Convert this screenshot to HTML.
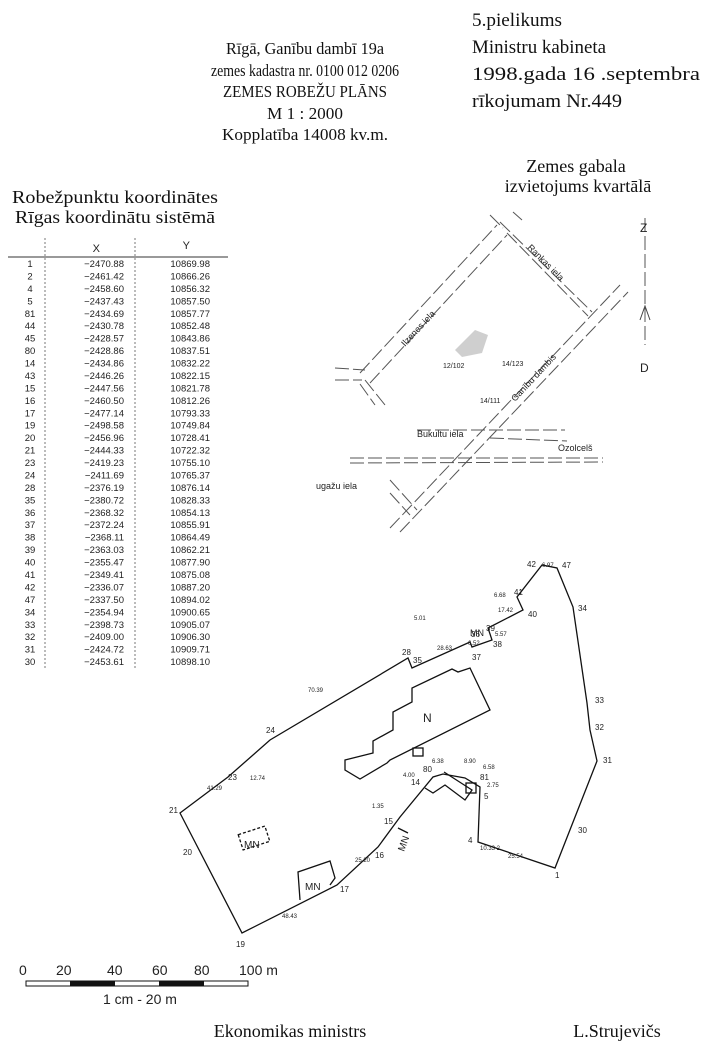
<!DOCTYPE html>
<html><head><meta charset="utf-8"><style>
html,body{margin:0;padding:0;background:#fff}
svg{display:block}
.s{font-family:"Liberation Serif",serif;fill:#111}
.a{font-family:"Liberation Sans",sans-serif;fill:#222}
</style></head><body>
<svg width="709" height="1056" viewBox="0 0 709 1056" xmlns="http://www.w3.org/2000/svg">
<g class="s" font-size="17" text-anchor="middle">
<text x="305" y="54" textLength="158" lengthAdjust="spacingAndGlyphs">Rīgā, Ganību dambī 19a</text>
<text x="305" y="76" textLength="188" lengthAdjust="spacingAndGlyphs">zemes kadastra nr. 0100 012 0206</text>
<text x="305" y="97" textLength="164" lengthAdjust="spacingAndGlyphs">ZEMES ROBEŽU PLĀNS</text>
<text x="305" y="119" textLength="76" lengthAdjust="spacingAndGlyphs">M 1 : 2000</text>
<text x="305" y="140" textLength="166" lengthAdjust="spacingAndGlyphs">Kopplatība 14008 kv.m.</text>
</g>
<g class="s" font-size="19">
<text x="472" y="26" textLength="90" lengthAdjust="spacingAndGlyphs">5.pielikums</text>
<text x="472" y="53" textLength="134" lengthAdjust="spacingAndGlyphs">Ministru kabineta</text>
<text x="472" y="80" textLength="228" lengthAdjust="spacingAndGlyphs">1998.gada 16  .septembra</text>
<text x="472" y="107" textLength="150" lengthAdjust="spacingAndGlyphs">rīkojumam Nr.449</text>
<text x="576" y="172" text-anchor="middle" font-size="18">Zemes gabala</text>
<text x="578" y="192" text-anchor="middle" font-size="18">izvietojums kvartālā</text>
<text x="115" y="203" text-anchor="middle" font-size="18" textLength="206" lengthAdjust="spacingAndGlyphs">Robežpunktu koordinātes</text>
<text x="115" y="223" text-anchor="middle" font-size="18" textLength="200" lengthAdjust="spacingAndGlyphs">Rīgas koordinātu sistēmā</text>
<text x="290" y="1037" text-anchor="middle" font-size="18">Ekonomikas ministrs</text>
<text x="617" y="1037" text-anchor="middle" font-size="18">L.Strujevičs</text>
</g>
<!-- table -->
<line x1="8" y1="257" x2="228" y2="257" stroke="#333" stroke-width="1"/>
<line x1="45" y1="238" x2="45" y2="668" stroke="#777" stroke-dasharray="2,2"/>
<line x1="135" y1="238" x2="135" y2="668" stroke="#777" stroke-dasharray="2,2"/>
<g class="a" font-size="10" text-anchor="end">
<text x="100" y="252" font-size="11">X</text><text x="190" y="249" font-size="11">Y</text>
</g>
<g class="a" font-size="9.5">
<g text-anchor="middle">
<text x="30" y="267">1</text><text x="30" y="279.4">2</text><text x="30" y="291.9">4</text><text x="30" y="304.3">5</text><text x="30" y="316.8">81</text><text x="30" y="329.2">44</text><text x="30" y="341.6">45</text><text x="30" y="354.1">80</text><text x="30" y="366.5">14</text><text x="30" y="379">43</text><text x="30" y="391.4">15</text><text x="30" y="403.8">16</text><text x="30" y="416.3">17</text><text x="30" y="428.7">19</text><text x="30" y="441.2">20</text><text x="30" y="453.6">21</text><text x="30" y="466">23</text><text x="30" y="478.5">24</text><text x="30" y="490.9">28</text><text x="30" y="503.4">35</text><text x="30" y="515.8">36</text><text x="30" y="528.2">37</text><text x="30" y="540.7">38</text><text x="30" y="553.1">39</text><text x="30" y="565.6">40</text><text x="30" y="578">41</text><text x="30" y="590.4">42</text><text x="30" y="602.9">47</text><text x="30" y="615.3">34</text><text x="30" y="627.8">33</text><text x="30" y="640.2">32</text><text x="30" y="652.6">31</text><text x="30" y="665.1">30</text>
</g>
<g text-anchor="end">
<text x="124" y="267">−2470.88</text><text x="124" y="279.4">−2461.42</text><text x="124" y="291.9">−2458.60</text><text x="124" y="304.3">−2437.43</text><text x="124" y="316.8">−2434.69</text><text x="124" y="329.2">−2430.78</text><text x="124" y="341.6">−2428.57</text><text x="124" y="354.1">−2428.86</text><text x="124" y="366.5">−2434.86</text><text x="124" y="379">−2446.26</text><text x="124" y="391.4">−2447.56</text><text x="124" y="403.8">−2460.50</text><text x="124" y="416.3">−2477.14</text><text x="124" y="428.7">−2498.58</text><text x="124" y="441.2">−2456.96</text><text x="124" y="453.6">−2444.33</text><text x="124" y="466">−2419.23</text><text x="124" y="478.5">−2411.69</text><text x="124" y="490.9">−2376.19</text><text x="124" y="503.4">−2380.72</text><text x="124" y="515.8">−2368.32</text><text x="124" y="528.2">−2372.24</text><text x="124" y="540.7">−2368.11</text><text x="124" y="553.1">−2363.03</text><text x="124" y="565.6">−2355.47</text><text x="124" y="578">−2349.41</text><text x="124" y="590.4">−2336.07</text><text x="124" y="602.9">−2337.50</text><text x="124" y="615.3">−2354.94</text><text x="124" y="627.8">−2398.73</text><text x="124" y="640.2">−2409.00</text><text x="124" y="652.6">−2424.72</text><text x="124" y="665.1">−2453.61</text>
<text x="210" y="267">10869.98</text><text x="210" y="279.4">10866.26</text><text x="210" y="291.9">10856.32</text><text x="210" y="304.3">10857.50</text><text x="210" y="316.8">10857.77</text><text x="210" y="329.2">10852.48</text><text x="210" y="341.6">10843.86</text><text x="210" y="354.1">10837.51</text><text x="210" y="366.5">10832.22</text><text x="210" y="379">10822.15</text><text x="210" y="391.4">10821.78</text><text x="210" y="403.8">10812.26</text><text x="210" y="416.3">10793.33</text><text x="210" y="428.7">10749.84</text><text x="210" y="441.2">10728.41</text><text x="210" y="453.6">10722.32</text><text x="210" y="466">10755.10</text><text x="210" y="478.5">10765.37</text><text x="210" y="490.9">10876.14</text><text x="210" y="503.4">10828.33</text><text x="210" y="515.8">10854.13</text><text x="210" y="528.2">10855.91</text><text x="210" y="540.7">10864.49</text><text x="210" y="553.1">10862.21</text><text x="210" y="565.6">10877.90</text><text x="210" y="578">10875.08</text><text x="210" y="590.4">10887.20</text><text x="210" y="602.9">10894.02</text><text x="210" y="615.3">10900.65</text><text x="210" y="627.8">10905.07</text><text x="210" y="640.2">10906.30</text><text x="210" y="652.6">10909.71</text><text x="210" y="665.1">10898.10</text>
</g>
</g>
<!-- location map -->
<g stroke="#555" stroke-width="1" fill="none" stroke-dasharray="14,4">
<line x1="360" y1="373" x2="497" y2="225"/><line x1="370" y1="383" x2="507" y2="235"/>
<line x1="500" y1="222" x2="592" y2="312"/><line x1="507" y1="233" x2="588" y2="316"/>
<line x1="390" y1="528" x2="620" y2="285"/><line x1="400" y1="532" x2="628" y2="292"/>
<line x1="335" y1="368" x2="365" y2="370"/><line x1="335" y1="380" x2="362" y2="380"/>
<line x1="365" y1="380" x2="385" y2="405"/><line x1="360" y1="384" x2="375" y2="405"/>
<line x1="490" y1="215" x2="503" y2="228"/><line x1="513" y1="212" x2="522" y2="220"/>
<line x1="417" y1="430" x2="565" y2="430"/><line x1="490" y1="438" x2="567" y2="441"/>
<line x1="350" y1="458" x2="603" y2="458"/><line x1="350" y1="463" x2="603" y2="462"/>
<line x1="390" y1="480" x2="417" y2="510"/><line x1="390" y1="493" x2="410" y2="515"/>
<line x1="645" y1="218" x2="645" y2="345"/>
</g>
<g class="a" font-size="9">
<text transform="translate(405,347) rotate(-47)">Ilzenes iela</text>
<text transform="translate(527,248) rotate(45)">Rankas iela</text>
<text transform="translate(515,402) rotate(-47)">Ganību dambis</text>
<text x="417" y="437">Bukultu iela</text>
<text x="558" y="451">Ozolcelš</text>
<text x="316" y="489">ugažu iela</text>
<text x="443" y="368" font-size="7">12/102</text>
<text x="502" y="366" font-size="7">14/123</text>
<text x="480" y="403" font-size="7">14/111</text>
<text x="640" y="232" font-size="12">Z</text>
<text x="640" y="372" font-size="12">D</text>
</g>
<path d="M455 350 L475 330 L488 335 L482 353 L462 357 Z" fill="#bbb" opacity="0.7"/>
<path d="M640 320 L645 306 L650 320" stroke="#444" fill="none"/>
<!-- plan -->
<g stroke="#111" stroke-width="1.3" fill="none">
<polygon points="180,813 228,777 270,740 408,658 412,668 470,642 472,647 492,640 488,628 523,610 517,597 542,565 557,568 573,607 587,703 590,730 597,761 555,868 478,842 480,787 465,778 443,774 433,777 400,817 378,847 337,885 242,933"/>
<polygon points="345,760 345,770 360,779 387,763 390,760 490,710 470,668 458,672 452,669 412,688 412,702 393,712 393,730 373,741 373,753"/>
<polyline points="425,788 433,793 445,785 465,800 472,790 444,772"/>
<rect x="240" y="830" width="28" height="16" stroke-dasharray="3,2" transform="rotate(-18 254 838)"/>
<polyline points="300,900 298,872 330,861 335,878 330,885"/>
<rect x="413" y="748" width="10" height="8"/>
<rect x="466" y="783" width="10" height="10"/>
<line x1="398" y1="828" x2="408" y2="833"/>
</g>
<g class="a" font-size="8">
<text x="169" y="813">21</text><text x="183" y="855">20</text><text x="236" y="947">19</text><text x="340" y="892">17</text><text x="375" y="858">16</text><text x="384" y="824">15</text><text x="411" y="785">14</text><text x="423" y="772">80</text>
<text x="484" y="799">5</text><text x="468" y="843">4</text><text x="555" y="878">1</text><text x="603" y="763">31</text><text x="595" y="730">32</text><text x="595" y="703">33</text><text x="578" y="611">34</text><text x="562" y="568">47</text><text x="527" y="567">42</text><text x="514" y="595">41</text><text x="528" y="617">40</text><text x="486" y="631">39</text><text x="493" y="647">38</text><text x="472" y="660">37</text><text x="471" y="637">36</text><text x="413" y="663">35</text><text x="402" y="655">28</text><text x="266" y="733">24</text><text x="228" y="780">23</text><text x="578" y="833">30</text><text x="480" y="780">81</text>
<text x="308" y="692" font-size="6">70.39</text><text x="250" y="780" font-size="6">12.74</text><text x="207" y="790" font-size="6">41.29</text><text x="282" y="918" font-size="6">48.43</text><text x="355" y="862" font-size="6">25.20</text><text x="508" y="858" font-size="6">25.54</text><text x="480" y="850" font-size="6">10.33 2</text><text x="414" y="620" font-size="6">5.01</text><text x="437" y="650" font-size="6">28.63</text>
<text x="468" y="645" font-size="6">6.52</text><text x="495" y="636" font-size="6">5.57</text><text x="498" y="612" font-size="6">17.42</text><text x="494" y="597" font-size="6">6.68</text><text x="542" y="567" font-size="6">6.97</text><text x="483" y="769" font-size="6">6.58</text><text x="487" y="787" font-size="6">2.75</text><text x="432" y="763" font-size="6">6.38</text><text x="464" y="763" font-size="6">8.90</text><text x="372" y="808" font-size="6">1.35</text><text x="403" y="777" font-size="6">4.00</text>
<text x="244" y="848" font-size="10">MN</text>
<text x="305" y="890" font-size="10">MN</text>
<text x="470" y="636" font-size="9">MN</text>
<text transform="translate(404,852) rotate(-70)" font-size="10">MN</text>
<text x="423" y="722" font-size="12">N</text>
</g>
<!-- scale -->
<g class="a" font-size="14">
<text x="19" y="975">0</text><text x="56" y="975">20</text><text x="107" y="975">40</text><text x="152" y="975">60</text><text x="194" y="975">80</text><text x="239" y="975">100 m</text>
<text x="103" y="1004">1 cm - 20 m</text>
</g>
<rect x="26" y="981" width="222" height="5" fill="#fff" stroke="#111"/>
<rect x="70" y="981" width="45" height="5" fill="#111"/>
<rect x="159" y="981" width="45" height="5" fill="#111"/>
</svg>
</body></html>
